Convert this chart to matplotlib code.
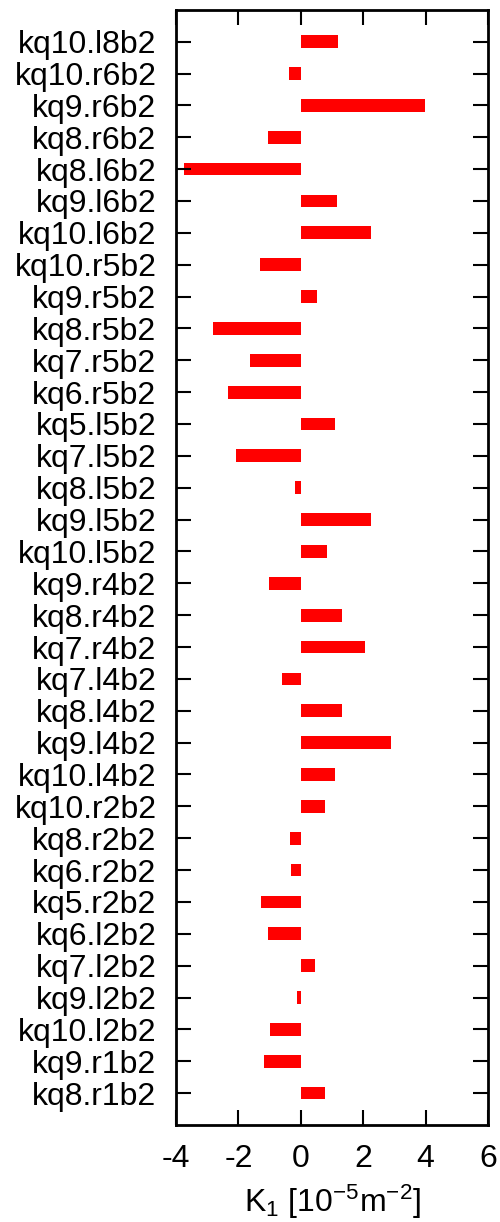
import numpy as np
import matplotlib
matplotlib.use('Agg')
import matplotlib.pyplot as plt

plt.rcParams['font.family'] = ['Liberation Sans', 'DejaVu Sans']
plt.rcParams['mathtext.fontset'] = 'custom'
plt.rcParams['mathtext.rm'] = 'Liberation Sans'
plt.rcParams['mathtext.it'] = 'Liberation Sans:italic'

# labels from top to bottom
labels = ['kq10.l8b2', 'kq10.r6b2', 'kq9.r6b2', 'kq8.r6b2', 'kq8.l6b2',
          'kq9.l6b2', 'kq10.l6b2', 'kq10.r5b2', 'kq9.r5b2', 'kq8.r5b2',
          'kq7.r5b2', 'kq6.r5b2', 'kq5.l5b2', 'kq7.l5b2', 'kq8.l5b2',
          'kq9.l5b2', 'kq10.l5b2', 'kq9.r4b2', 'kq8.r4b2', 'kq7.r4b2',
          'kq7.l4b2', 'kq8.l4b2', 'kq9.l4b2', 'kq10.l4b2', 'kq10.r2b2',
          'kq8.r2b2', 'kq6.r2b2', 'kq5.r2b2', 'kq6.l2b2', 'kq7.l2b2',
          'kq9.l2b2', 'kq10.l2b2', 'kq9.r1b2', 'kq8.r1b2']
k1 = [1.20, -0.38, 3.99, -1.04, -3.74,
      1.15, 2.24, -1.31, 0.52, -2.80,
      -1.62, -2.34, 1.10, -2.07, -0.18,
      2.24, 0.84, -1.01, 1.32, 2.05,
      -0.59, 1.31, 2.89, 1.10, 0.76,
      -0.35, -0.32, -1.26, -1.06, 0.45,
      -0.12, -0.98, -1.17, 0.77]
xticks = [-4, -2, 0, 2, 4, 6]

fig = plt.figure(figsize=(5.0, 12.22), dpi=100)
ax = fig.add_axes([0.352, 0.0794, 0.624, 0.9126])

n = len(labels)
ypos = np.arange(n)[::-1]
ax.barh(ypos, k1, height=0.4, color='#ff0000', edgecolor='none')

ax.set_xlim(-4, 6)
ax.set_ylim(-1, n)
ax.set_xticks(xticks)
ax.set_xticklabels([str(t) for t in xticks])
ax.set_yticks(ypos)
ax.set_yticklabels(labels)

ax.tick_params(axis='both', direction='in', length=11, width=1.5,
               labelsize=23, top=True, right=True, color='black')
ax.tick_params(axis='y', pad=14)
ax.tick_params(axis='x', pad=14)
for s in ax.spines.values():
    s.set_linewidth(2)

ax.set_xlabel(r'K$_1$ [10$^{-5}$m$^{-2}$]', fontsize=23, labelpad=6)

fig.savefig('out.png', dpi=100)
